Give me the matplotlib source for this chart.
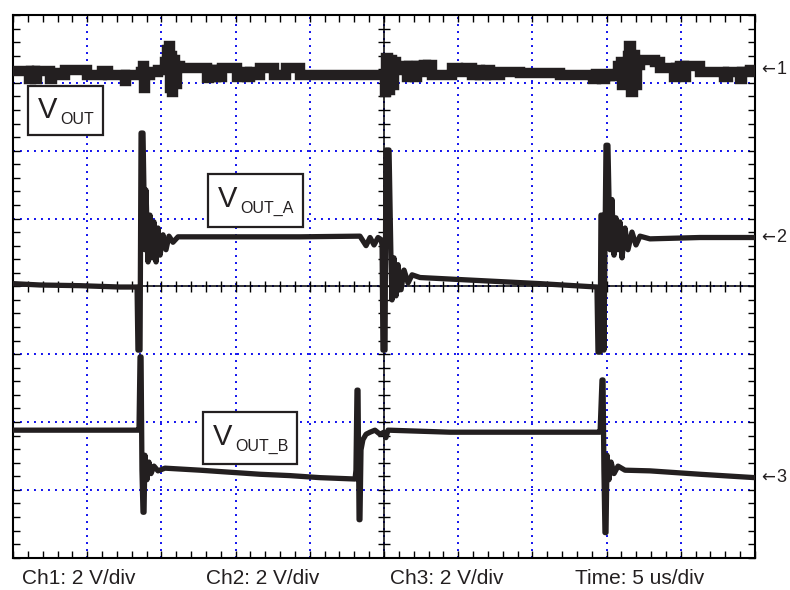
import numpy as np
import matplotlib
matplotlib.use("Agg")
import matplotlib.pyplot as plt
from matplotlib.patches import Rectangle
from matplotlib.ticker import MultipleLocator
import matplotlib.transforms as mtransforms

# time in us (5 us/div), trace position in screen divisions (8 div tall)
ch1_t = [0.00, 1.01, 1.08, 1.21, 1.42, 1.48, 1.62, 2.36, 2.49, 2.63, 3.30, 3.50, 4.85, 4.99,
         5.86, 6.00, 6.27, 6.40, 7.48, 7.55, 7.61, 8.56, 8.63, 8.76, 8.83, 8.89, 9.23, 9.77,
         10.04, 10.24, 10.38, 10.51, 10.58, 10.65, 10.71, 10.78, 10.92, 11.05, 11.25, 12.87,
         13.07, 13.21, 13.54, 13.68, 13.95, 14.08, 14.96, 15.09, 15.30, 15.63, 15.77, 15.97,
         16.31, 16.64, 17.45, 17.59, 18.26, 18.40, 19.20, 19.34, 24.93,
         25.00, 25.07, 25.13, 25.27, 25.40, 25.54, 25.67, 25.81, 26.08, 26.42, 26.55, 26.68,
         26.95, 27.09, 27.22, 27.43, 27.70, 27.83, 27.96, 28.23, 29.45, 29.58, 29.99, 30.26,
         30.53, 30.93, 31.20, 31.47, 31.87, 32.14, 32.82, 34.16, 36.86, 38.88, 39.08, 39.29,
         39.56, 39.69, 39.89, 40.23, 40.50, 40.77, 40.97, 41.04, 41.17, 41.44, 41.51, 41.64,
         41.78, 41.91, 42.05, 42.25, 42.92, 43.26, 43.60, 44.27, 44.54, 44.68, 44.95, 45.22,
         45.35, 45.96, 46.29, 47.64, 47.91, 48.18, 48.65, 48.99, 49.12, 49.53, 49.66, 50.00]
ch1_v = [7.18, 7.18, 7.05, 7.18, 7.18, 7.05, 7.18, 7.18, 7.06, 7.15, 7.12, 7.19, 7.19, 7.12,
         7.12, 7.18, 7.18, 7.12, 7.12, 7.02, 7.12, 7.12, 7.16, 7.25, 6.93, 7.12, 7.16, 7.19,
         7.19, 7.31, 7.49, 7.55, 6.93, 7.40, 6.87, 7.34, 6.99, 7.25, 7.22, 7.22,
         7.07, 7.19, 7.09, 7.19, 7.09, 7.22, 7.22, 7.09, 7.16, 7.16, 7.09, 7.16,
         7.12, 7.22, 7.22, 7.12, 7.12, 7.22, 7.22, 7.12, 7.12,
         7.12, 6.87, 7.37, 6.90, 7.34, 6.97, 7.31, 7.19, 7.25, 7.25, 7.08, 7.25,
         7.25, 7.08, 7.25, 7.22, 7.27, 7.16, 7.27, 7.12, 7.12, 7.22, 7.16, 7.16,
         7.22, 7.12, 7.19, 7.12, 7.19, 7.12, 7.16, 7.15, 7.12, 7.12, 7.05, 7.13,
         7.10, 7.05, 7.10, 7.13, 7.10, 7.25, 7.31, 6.97, 7.12, 7.40, 7.55, 6.87,
         7.41, 6.97, 7.27, 7.34, 7.34, 7.30, 7.22, 7.22, 7.08, 7.22, 7.25, 7.08,
         7.25, 7.25, 7.16, 7.16, 7.08, 7.16, 7.16, 7.05, 7.16, 7.16, 7.19, 7.19]

ch2_t = [0.00, 1.82, 4.51, 7.21, 8.36, 8.42, 8.56, 8.63, 8.76, 8.89, 8.96, 9.10, 9.23, 9.37,
         9.50, 9.64, 9.77, 9.91, 10.11, 10.31, 10.51, 10.78, 11.12, 15.97, 19.34, 23.38,
         23.79, 24.06, 24.33, 24.60, 24.80, 24.87, 24.93, 25.07, 25.13, 25.34, 25.47, 25.54,
         25.67, 25.81, 25.94, 26.15, 26.35, 26.62, 26.89, 27.43, 30.12, 32.82, 35.51, 39.35,
         39.42, 39.56, 39.62, 39.76, 39.82, 39.96, 40.09, 40.23, 40.36, 40.50, 40.63, 40.77,
         40.90, 41.04, 41.24, 41.44, 41.71, 41.98, 42.25, 42.92, 46.29, 50.00]
ch2_v = [4.04, 4.02, 4.01, 3.99, 3.99, 3.06, 3.06, 6.26, 6.26, 4.54, 5.42, 4.36, 5.05, 4.42,
         4.95, 4.36, 4.86, 4.46, 4.76, 4.54, 4.74, 4.65, 4.73, 4.73, 4.73, 4.74,
         4.60, 4.72, 4.61, 4.72, 4.69, 4.61, 3.06, 3.06, 6.01, 6.01, 4.39, 3.80,
         4.42, 3.86, 4.32, 3.95, 4.24, 4.05, 4.17, 4.13, 4.10, 4.07, 4.04, 3.99,
         3.03, 3.03, 5.05, 5.05, 3.06, 6.08, 6.08, 4.54, 5.28, 4.46, 5.01, 4.54,
         4.95, 4.42, 4.86, 4.54, 4.80, 4.61, 4.74, 4.70, 4.72, 4.72]

ch3_t = [0.00, 8.36, 8.49, 8.56, 8.63, 8.69, 8.76, 8.83, 8.89, 9.03, 9.16, 9.30, 9.50, 9.77,
         10.24, 12.60, 14.62, 16.64, 18.67, 20.69, 23.05, 23.11, 23.18, 23.25, 23.32, 23.38,
         23.45, 23.58, 23.79, 24.06, 24.39, 24.73, 25.00, 25.13, 25.27, 29.45, 39.42, 39.56,
         39.69, 39.76, 39.82, 39.89, 39.96, 40.03, 40.16, 40.30, 40.50, 40.77, 41.24, 42.92,
         46.29, 50.00]
ch3_v = [1.88, 1.88, 1.88, 2.96, 2.96, 1.29, 0.67, 0.67, 1.51, 1.15, 1.41, 1.24, 1.35, 1.28,
         1.32, 1.29, 1.26, 1.23, 1.21, 1.18, 1.16, 1.29, 2.47, 2.47, 0.56, 0.56,
         1.59, 1.74, 1.82, 1.85, 1.88, 1.82, 1.85, 1.77, 1.88, 1.85, 1.85, 1.85,
         2.62, 2.62, 1.29, 0.37, 0.37, 1.51, 1.15, 1.41, 1.24, 1.35, 1.29, 1.28,
         1.23, 1.18]

ref_levels = [7.20, 4.72, 1.18]
ref_names = ["1", "2", "3"]
footer = ["Ch1: 2 V/div", "Ch2: 2 V/div", "Ch3: 2 V/div", "Time: 5 us/div"]
trace_labels = ["OUT", "OUT_A", "OUT_B"]

W, H = 790, 590
ink = "#231f20"
fonts = ["Liberation Sans", "DejaVu Sans"]


def fxy(px, py):
    # pixel position -> figure fraction
    return px / W, 1 - py / H


fig = plt.figure(figsize=(W / 100, H / 100), dpi=100)
ax = fig.add_axes([13 / W, (H - 557.7) / H, 742 / W, 542.7 / H])
ax.set_xlim(0, 50)
ax.set_ylim(0, 8)

# graticule
ax.xaxis.set_major_locator(MultipleLocator(5))
ax.xaxis.set_minor_locator(MultipleLocator(1))
ax.yaxis.set_major_locator(MultipleLocator(1))
ax.yaxis.set_minor_locator(MultipleLocator(0.2))
ax.tick_params(which="both", direction="in", length=5, width=1.0, color="black",
               top=True, right=True, labelbottom=False, labelleft=False)
ax.grid(True, which="major", color="#1010ee", linestyle=(0, (1, 2.6)), linewidth=1.4)
for s in ax.spines.values():
    s.set_linewidth(1.5)
    s.set_color("black")

ax.axhline(4, color="black", lw=1.1, zorder=2)
ax.axvline(25, color="black", lw=1.1, zorder=2)
ax.vlines(np.arange(1, 50, 1), 4 - 0.08, 4 + 0.08, color="black", lw=1.0, zorder=2)
ax.hlines(np.arange(0.2, 8, 0.2), 25 - 0.4, 25 + 0.4, color="black", lw=1.0, zorder=2)

# traces
ax.plot(ch1_t, ch1_v, color=ink, lw=7.5, drawstyle="steps-post",
        solid_joinstyle="miter", solid_capstyle="butt", zorder=5)
ax.plot(ch2_t, ch2_v, color=ink, lw=3.8, zorder=5)
ax.plot(ch3_t, ch3_v, color=ink, lw=3.8, zorder=5)

# channel markers on the right
trans = mtransforms.blended_transform_factory(ax.transAxes, ax.transData)
for lvl, name in zip(ref_levels, ref_names):
    ax.text(1.008, lvl, "\u2190", transform=trans, ha="left", va="center",
            fontsize=12, color=ink, family="DejaVu Sans", clip_on=False)
    ax.text(1.029, lvl, name, transform=trans, ha="left", va="center",
            fontsize=13, color=ink, family=fonts, clip_on=False)

# trace name boxes
boxes = [(28, 86, 75, 49), (208, 174, 95, 53), (203, 412, 94, 52)]
v_pos = [(38, 118), (218, 207), (213, 445)]
sub_pos = [(60, 124), (240, 213), (235, 451)]
for (bx, by, bw, bh), vp, sp, lab in zip(boxes, v_pos, sub_pos, trace_labels):
    x0, y0 = fxy(bx, by + bh)
    fig.patches.append(Rectangle((x0, y0), bw / W, bh / H, transform=fig.transFigure,
                                 fill=True, facecolor="white", edgecolor=ink, lw=1.6, zorder=6))
    fig.text(*fxy(*vp), "V", fontsize=21, color=ink, family=fonts, va="baseline", zorder=7)
    fig.text(*fxy(*sp), lab, fontsize=11.5, color=ink, family=fonts, va="baseline", zorder=7)

# footer
for px, txt in zip([22, 206, 390, 575], footer):
    fig.text(*fxy(px, 578), txt, fontsize=15, color=ink, family=fonts, va="center", ha="left")

fig.savefig("out.png", dpi=100)
